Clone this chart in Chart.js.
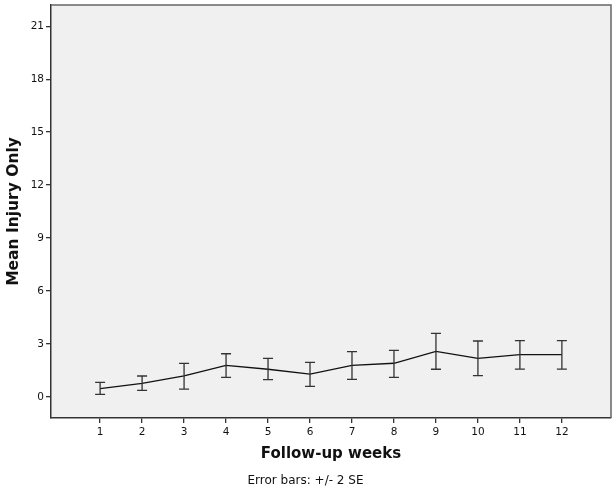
<!DOCTYPE html>
<html>
<head>
<meta charset="utf-8">
<script src="https://cdn.jsdelivr.net/npm/chart.js@4/dist/chart.umd.min.js"></script>
<style>
  html, body { margin: 0; padding: 0; background: #fff; }
  #wrap { width: 616px; height: 496px; }
</style>
</head>
<body>
<div id="wrap"><canvas id="chart"></canvas></div>
<script>
// follow-up weeks and mean injury values
const weeks = [1, 2, 3, 4, 5, 6, 7, 8, 9, 10, 11, 12];
const meanInjury = [0.47, 0.77, 1.19, 1.79, 1.57, 1.30, 1.79, 1.91, 2.58, 2.19, 2.40, 2.40];
const errLow = [0.15, 0.38, 0.45, 1.11, 0.98, 0.60, 1.00, 1.11, 1.57, 1.21, 1.58, 1.58];
const errHigh = [0.83, 1.19, 1.90, 2.45, 2.19, 1.96, 2.57, 2.64, 3.60, 3.17, 3.19, 3.19];
const yTicks = [0, 3, 6, 9, 12, 15, 18, 21];
const xTicks = weeks;

const FONT = "'DejaVu Sans', Verdana, sans-serif";

// grey panel + frame behind/around the plot
const panelPlugin = {
  id: 'panel',
  beforeDraw(chart) {
    const { ctx, chartArea: a } = chart;
    ctx.save();
    ctx.fillStyle = '#f0f0f0';
    ctx.fillRect(a.left, a.top, a.right - a.left, a.bottom - a.top);
    ctx.restore();
  },
  afterDraw(chart) {
    const { ctx, chartArea: a } = chart;
    ctx.save();
    ctx.strokeStyle = '#666';
    ctx.lineWidth = 1.5;
    ctx.beginPath();
    ctx.moveTo(a.left, a.top);
    ctx.lineTo(a.right, a.top);
    ctx.lineTo(a.right, a.bottom);
    ctx.stroke();
    ctx.restore();
  }
};

// +/- 2 SE bars with caps
const errorBarPlugin = {
  id: 'errorBars',
  afterDatasetsDraw(chart) {
    const { ctx, scales: { x, y } } = chart;
    ctx.save();
    ctx.strokeStyle = '#333';
    ctx.lineWidth = 1.3;
    weeks.forEach((w, i) => {
      const px = x.getPixelForValue(w);
      const top = y.getPixelForValue(errHigh[i]);
      const bot = y.getPixelForValue(errLow[i]);
      ctx.beginPath();
      ctx.moveTo(px, top); ctx.lineTo(px, bot);
      ctx.moveTo(px - 5, top); ctx.lineTo(px + 5, top);
      ctx.moveTo(px - 5, bot); ctx.lineTo(px + 5, bot);
      ctx.stroke();
    });
    ctx.restore();
  }
};

new Chart(document.getElementById('chart'), {
  type: 'line',
  data: {
    datasets: [{
      label: 'Mean Injury Only',
      data: weeks.map((w, i) => ({ x: w, y: meanInjury[i] })),
      borderColor: '#111',
      borderWidth: 1.3,
      pointRadius: 0,
      tension: 0,
      fill: false
    }]
  },
  plugins: [panelPlugin, errorBarPlugin],
  options: {
    responsive: true,
    maintainAspectRatio: false,
    animation: false,
    layout: { padding: { top: 5, right: 5, left: 0, bottom: 0 } },
    plugins: {
      legend: { display: false },
      tooltip: { enabled: false },
      subtitle: {
        display: true,
        position: 'bottom',
        text: 'Error bars: +/- 2 SE',
        color: '#111',
        font: { family: FONT, size: 12, weight: 'normal' },
        padding: { top: 0, bottom: 8 }
      }
    },
    scales: {
      x: {
        type: 'linear',
        min: -0.17,
        max: 13.17,
        afterBuildTicks: s => { s.ticks = xTicks.map(v => ({ value: v })); },
        afterFit: s => { s.height = 55.6; s.paddingLeft = 0; s.paddingRight = 0; },
        border: { display: true, color: '#333', width: 1.5 },
        grid: { drawOnChartArea: false, drawTicks: true, tickLength: 5, color: '#333', lineWidth: 1.3 },
        ticks: { color: '#111', font: { family: FONT, size: 10.5 }, padding: 3, autoSkip: false, maxRotation: 0 },
        title: {
          display: true,
          text: 'Follow-up weeks',
          color: '#111',
          font: { family: FONT, size: 15, weight: 'bold', lineHeight: 1.2 },
          padding: { top: 0, bottom: 10.6 }
        }
      },
      y: {
        min: -1.19,
        max: 22.2,
        afterBuildTicks: s => { s.ticks = yTicks.map(v => ({ value: v })); },
        afterFit: s => { s.width = 51; s.paddingTop = 0; s.paddingBottom = 0; },
        border: { display: true, color: '#333', width: 1.5 },
        grid: { drawOnChartArea: false, drawTicks: true, tickLength: 5, color: '#333', lineWidth: 1.3 },
        ticks: { color: '#111', font: { family: FONT, size: 10.5 }, padding: 2 },
        title: {
          display: true,
          text: 'Mean Injury Only',
          color: '#111',
          font: { family: FONT, size: 15.5, weight: 'bold', lineHeight: 1.2 },
          padding: { top: 5, bottom: 0 }
        }
      }
    }
  }
});
</script>
</body>
</html>
